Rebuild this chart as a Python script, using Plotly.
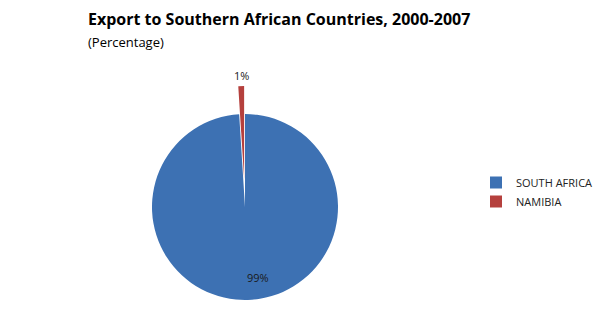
import plotly.graph_objects as go

labels = ["SOUTH AFRICA", "NAMIBIA"]
values = [99, 1]
colors = ["#3D71B3", "#B5403D"]
pulls = [0, 0.3]

title = "Export to Southern African Countries, 2000-2007"
subtitle = "(Percentage)"

W, H = 606, 331
cx, cy, r = 245, 207, 93
half = r * (1 + max(pulls))

total = sum(values)
pct_text = [f"{round(v / total * 100)}%" for v in values]
# label anchor points (pixels) for the percent labels
label_px = [(258, 277), (241, 76)]

fig = go.Figure(go.Pie(
    labels=labels,
    values=values,
    marker=dict(colors=colors, line=dict(width=0)),
    pull=pulls,
    sort=False,
    direction="clockwise",
    rotation=0,
    textinfo="none",
    domain=dict(x=[(cx - half) / W, (cx + half) / W],
                y=[(H - cy - half) / H, (H - cy + half) / H]),
    hoverinfo="label+percent",
))

annotations = [
    dict(text="<b>" + title + "</b>", x=86 / W, y=1 - 6 / H, xref="paper", yref="paper",
         xanchor="left", yanchor="top", showarrow=False,
         font=dict(family="Open Sans, sans-serif", size=16, color="#000")),
    dict(text=subtitle, x=86 / W, y=1 - 31 / H, xref="paper", yref="paper",
         xanchor="left", yanchor="top", showarrow=False,
         font=dict(family="Open Sans, sans-serif", size=13, color="#000")),
]
for t, (px, py) in zip(pct_text, label_px):
    annotations.append(dict(text=t, x=px / W, y=1 - py / H, xref="paper", yref="paper",
                            xanchor="center", yanchor="middle", showarrow=False,
                            font=dict(family="Open Sans, sans-serif", size=11, color="#1a1a1a")))

fig.update_layout(
    width=W, height=H,
    margin=dict(l=0, r=0, t=0, b=0, autoexpand=False),
    paper_bgcolor="white",
    plot_bgcolor="white",
    showlegend=True,
    legend=dict(x=476 / W, y=(H - 168) / H, xanchor="left", yanchor="top",
                font=dict(family="Open Sans, sans-serif", size=11, color="#222"),
                itemwidth=30),
    annotations=annotations,
)

fig.write_html("out.html")
